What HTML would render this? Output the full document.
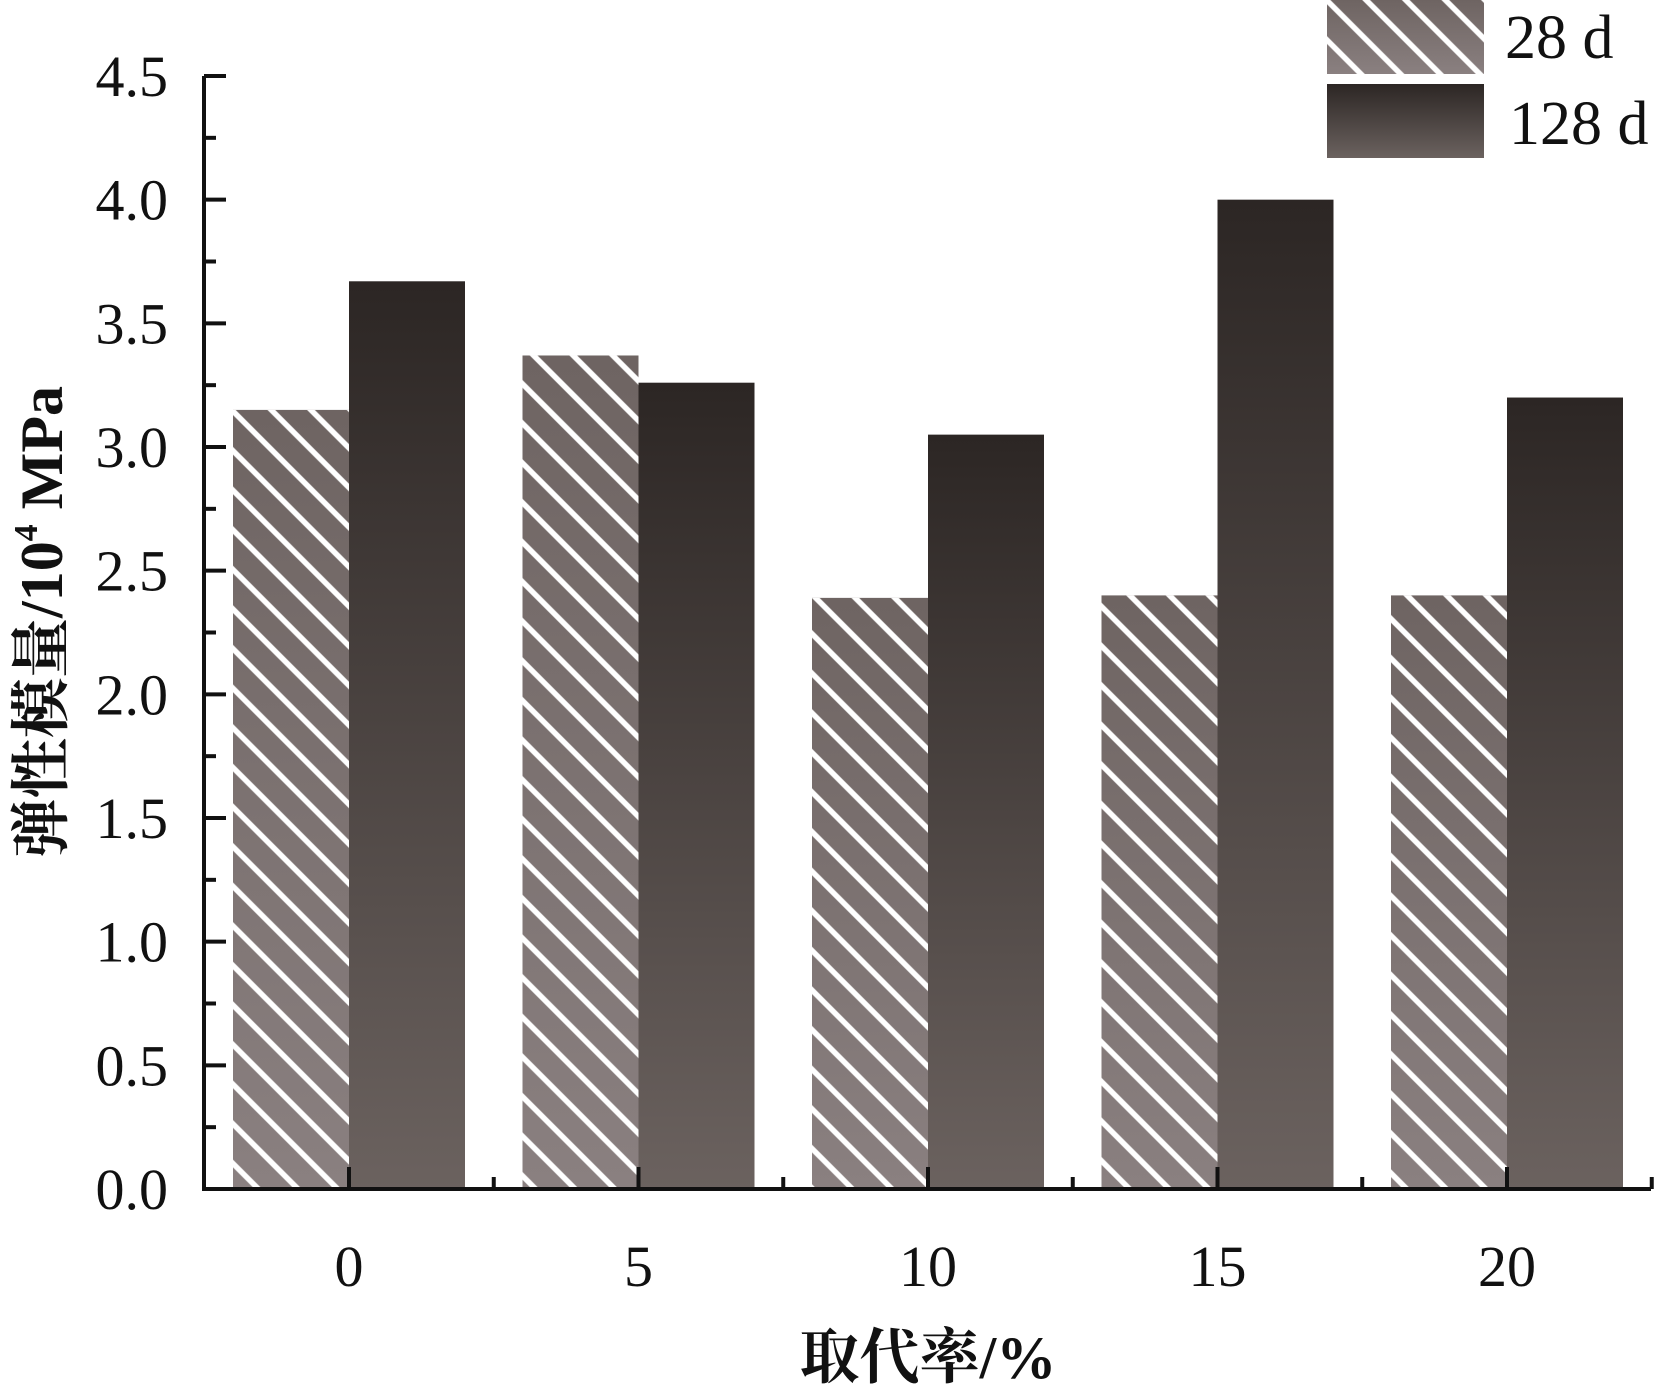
<!DOCTYPE html>
<html><head><meta charset="utf-8"><style>
html,body{margin:0;padding:0;background:#fff;}
svg{display:block;}
text{font-family:"Liberation Serif","Noto Serif CJK SC",serif;fill:#111;}
</style></head><body>
<svg id="chart" width="1654" height="1390" viewBox="0 0 1654 1390" xmlns="http://www.w3.org/2000/svg">
<defs>
<linearGradient id="g28" x1="0" y1="0" x2="0" y2="1"><stop offset="0" stop-color="#6e6462"/><stop offset="1" stop-color="#8a8080"/></linearGradient>
<linearGradient id="g128" x1="0" y1="0" x2="0" y2="1"><stop offset="0" stop-color="#2c2624"/><stop offset="1" stop-color="#6b625f"/></linearGradient>
<pattern id="hatch" patternUnits="userSpaceOnUse" width="28" height="28" patternTransform="rotate(-45)">
<line x1="14" y1="-5" x2="14" y2="33" stroke="#fff" stroke-width="5.5" stroke-linecap="round"/>
</pattern>
</defs>
<g id="bars"></g>
<g id="axes"></g>
<g>
<rect x="1327" y="0" width="157" height="74" fill="url(#g28)"/>
<rect x="1327" y="0" width="157" height="74" fill="url(#hatch)"/>
<text x="1505" y="58" font-size="62">28 d</text>
<rect x="1327" y="84" width="157" height="74" fill="url(#g128)"/>
<text x="1509" y="144" font-size="62">128 d</text>
</g>
<text x="928" y="1378" font-size="60" font-weight="bold" text-anchor="middle">取代率/%</text>
<text transform="translate(62,622) rotate(-90)" font-size="60" font-weight="bold" text-anchor="middle">弹性模量/10<tspan font-size="34" dy="-25">4</tspan><tspan dy="25"> MPa</tspan></text>
</svg>
<script>
const categories = ["0","5","10","15","20"];
const values28 = [3.15, 3.37, 2.39, 2.40, 2.40];
const values128 = [3.67, 3.26, 3.05, 4.00, 3.20];
const yTicks = ["0.0","0.5","1.0","1.5","2.0","2.5","3.0","3.5","4.0","4.5"];

const NS="http://www.w3.org/2000/svg";
const x0=204, base=1189, yTop=76, yMax=4.5, xRight=1651;
const step=289.5, firstC=349, bw=116;
const yS=v=>base-(v/yMax)*(base-yTop);
const xc=i=>firstC+i*step;
function mk(tag,attrs,parent){const e=document.createElementNS(NS,tag);for(const k in attrs)e.setAttribute(k,attrs[k]);parent.appendChild(e);return e;}
const barsG=document.getElementById('bars'), axesG=document.getElementById('axes');
categories.forEach((c,i)=>{
  const a=mk('rect',{x:xc(i)-bw,y:yS(values28[i]),width:bw,height:base-yS(values28[i]),fill:'url(#g28)'},barsG);
  
  
  mk('rect',{x:xc(i)-bw,y:yS(values28[i]),width:bw,height:base-yS(values28[i]),fill:'url(#hatch)'},barsG);
  const b=mk('rect',{x:xc(i),y:yS(values128[i]),width:bw,height:base-yS(values128[i]),fill:'url(#g128)'},barsG);
  
  
  const t=mk('text',{x:xc(i),y:1286,'font-size':58,'text-anchor':'middle'},axesG);
  t.textContent=c;
  
  
  mk('line',{x1:xc(i),y1:base,x2:xc(i),y2:base-22,stroke:'#111','stroke-width':4},axesG);
  mk('line',{x1:xc(i)+step/2,y1:base,x2:xc(i)+step/2,y2:base-12,stroke:'#111','stroke-width':4},axesG);
});
yTicks.forEach((l,i)=>{
  const v=parseFloat(l);
  mk('line',{x1:x0,y1:yS(v),x2:x0+22,y2:yS(v),stroke:'#111','stroke-width':4},axesG);
  if(i<yTicks.length-1) mk('line',{x1:x0,y1:yS(v+0.25),x2:x0+12,y2:yS(v+0.25),stroke:'#111','stroke-width':4},axesG);
  const t=mk('text',{x:168,y:yS(v)+20,'font-size':58,'text-anchor':'end'},axesG);
  t.textContent=l;
  
  
});
const xa=mk('line',{x1:x0-2,y1:base,x2:xRight,y2:base,stroke:'#111','stroke-width':4},axesG);


const ya=mk('line',{x1:x0,y1:yTop,x2:x0,y2:base+2,stroke:'#111','stroke-width':4},axesG);


</script>
</body></html>
